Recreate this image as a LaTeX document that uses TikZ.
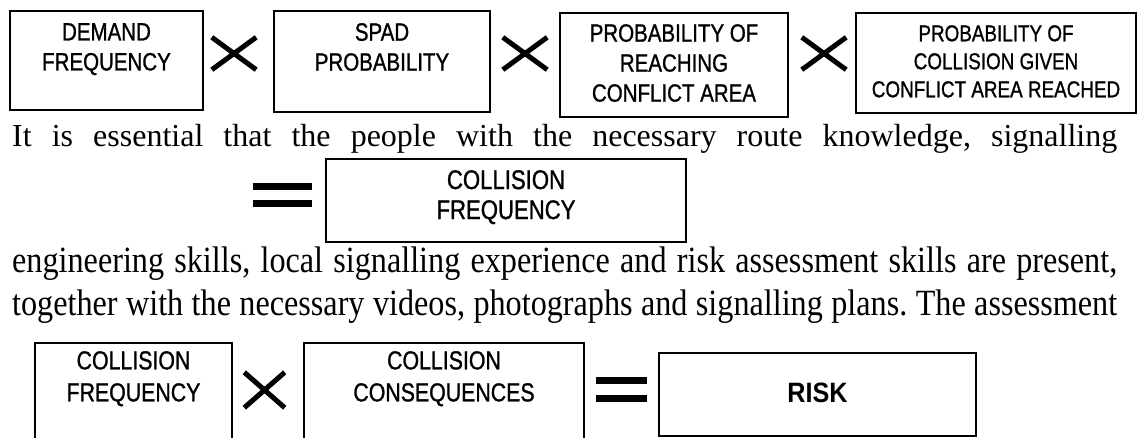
\documentclass[tikz,border=0pt]{standalone}
\usepackage{fontspec}
\setmainfont{Liberation Serif}
\newfontfamily\narrowsans{Liberation Sans}[FakeStretch=0.82,FakeBold=1]
\newfontfamily\risksans{Liberation Sans}[FakeStretch=0.9]
\newfontfamily\narrowserif{Liberation Serif}[FakeStretch=0.87]
\tikzset{
  box/.style={draw, line width=1.8pt, rectangle, inner sep=0pt},
  lbl/.style={font=\narrowsans\fontsize{25pt}{30pt}\selectfont, align=center, inner sep=0pt, anchor=north},
  lblsmall/.style={font=\narrowsans\fontsize{23pt}{28pt}\selectfont, align=center, inner sep=0pt, anchor=north},
  opsign/.style={inner sep=0pt, minimum width=44pt, minimum height=32pt},
  xstroke/.style={line width=5pt},
  eqsign/.style={inner sep=0pt, minimum width=52pt, minimum height=28pt},
  eqbar/.style={line width=7pt},
  bodyline/.style={inner sep=0pt, anchor=base west},
}
\begin{document}
\frenchspacing
\begin{tikzpicture}[x=1pt,y=-1pt]
\useasboundingbox (0,0) rectangle (1140,437);
% top row
\node[box, minimum width=193pt, minimum height=99pt] (b1) at (106.5,60.5) {};
\node[lbl] (t1) at (106.5,23) {DEMAND\\FREQUENCY};
\node[box, minimum width=216pt, minimum height=101pt] (b2) at (382,61.5) {};
\node[lbl] (t2) at (382,23) {SPAD\\PROBABILITY};
\node[box, minimum width=228pt, minimum height=104pt] (b3) at (674,65) {};
\node[lbl] (t3) at (674,24) {PROBABILITY OF\\REACHING\\CONFLICT AREA};
\node[box, minimum width=280pt, minimum height=100pt] (b4) at (996,63) {};
\node[lblsmall] (t4) at (996,25) {PROBABILITY OF\\COLLISION GIVEN\\CONFLICT AREA REACHED};
\node[opsign] (x1) at (234,53.5) {};
\node[opsign] (x2) at (525,53.5) {};
\node[opsign] (x3) at (824,53.5) {};
\foreach \n in {x1,x2,x3}{
  \draw[xstroke] (\n.south west) -- (\n.north east) (\n.north west) -- (\n.south east);
}
% line 1
\node[bodyline] (l1) at (12,146) {\fontsize{32pt}{38pt}\selectfont\makebox[1105pt][s]{It is essential that the people with the necessary route knowledge, signalling}};
% middle row
\node[eqsign, minimum width=59pt, minimum height=24pt] (e1) at (282.5,195) {};
\draw[eqbar] (e1.north west) ++(0,3.5) -- ++(59,0) (e1.south west) ++(0,-3.5) -- ++(59,0);
\node[box, minimum width=360pt, minimum height=83pt] (mid) at (506,200.5) {};
\node[lbl, font=\narrowsans\fontsize{27pt}{30pt}\selectfont] (tm) at (506,170) {COLLISION\\FREQUENCY};
% lines 2 and 3
\node[bodyline] (l2) at (12,272) {\narrowserif\fontsize{37pt}{43pt}\selectfont\makebox[1105pt][s]{engineering skills, local signalling experience and risk assessment skills are present,}};
\node[bodyline] (l3) at (12,315) {\narrowserif\fontsize{37pt}{43pt}\selectfont\makebox[1105pt][s]{together with the necessary videos, photographs and signalling plans. The assessment}};
% bottom row
\node[box, minimum width=197pt, minimum height=110pt] (c1) at (133.5,398) {};
\node[lbl, font=\narrowsans\fontsize{26pt}{32pt}\selectfont] (tc1) at (133.5,351) {COLLISION\\FREQUENCY};
\node[opsign, minimum width=40pt, minimum height=35pt] (x4) at (264.5,390) {};
\draw[xstroke] (x4.south west) -- (x4.north east) (x4.north west) -- (x4.south east);
\node[box, minimum width=280pt, minimum height=110pt] (c2) at (444,398) {};
\node[lbl, font=\narrowsans\fontsize{26pt}{32pt}\selectfont] (tc2) at (444,351) {COLLISION\\CONSEQUENCES};
\node[eqsign, minimum width=51pt, minimum height=25pt] (e2) at (621.5,389.5) {};
\draw[eqbar] (e2.north west) ++(0,3.5) -- ++(51,0) (e2.south west) ++(0,-3.5) -- ++(51,0);
\node[box, minimum width=317pt, minimum height=83pt] (risk) at (817.5,394.5) {};
\node[inner sep=0pt, font=\risksans\bfseries\fontsize{28pt}{32pt}\selectfont] (tr) at (817.5,393) {RISK};
\end{tikzpicture}
\end{document}
